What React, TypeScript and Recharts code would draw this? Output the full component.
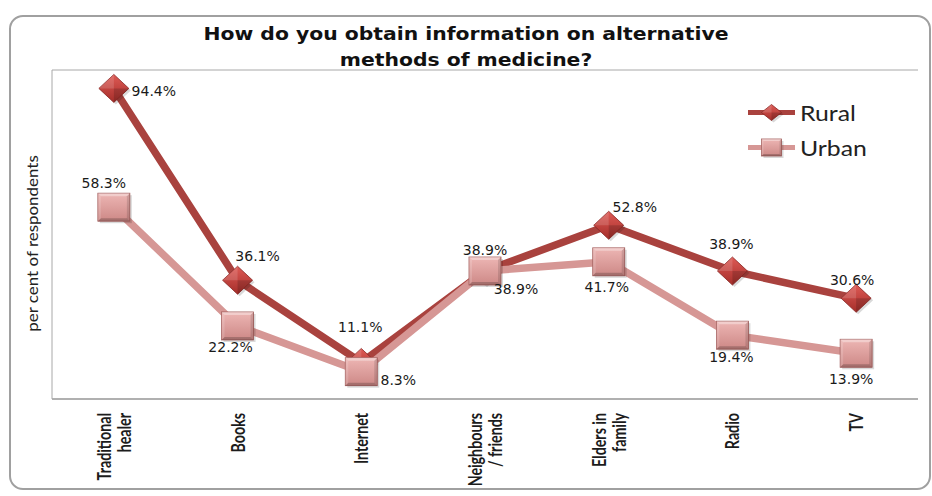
import { LineChart, Line, XAxis, YAxis, CartesianGrid, Legend } from "recharts";

const tickLabels = [
  "Traditional\nhealer",
  "Books",
  "Internet",
  "Neighbours\n/ friends",
  "Elders in\nfamily",
  "Radio",
  "TV",
];
const rural = [94.4, 36.1, 11.1, 38.9, 52.8, 38.9, 30.6];
const urban = [58.3, 22.2, 8.3, 38.9, 41.7, 19.4, 13.9];
const yTicks = [0, 10, 20, 30, 40, 50, 60, 70, 80, 90, 100];
const xTicks = tickLabels.map((_, i) => i);

// where each value label sits relative to its marker (dx, dy)
const ruralLabelShift = [[40, 3], [20, -24], [-1, -35], [0, -21], [26, -18], [-1, -27], [-4, -18]];
const urbanLabelShift = [[-10, -24], [-7, 21], [37, 8], [31, 18], [-2, 25], [-1, 22], [-5, 26]];

const RURAL = "#A9423E";
const URBAN = "#D69795";
const GRID = "#A8A8A8";

const data = tickLabels.map((label, i) => ({ pos: i, label, rural: rural[i], urban: urban[i] }));

function Diamond({ cx, cy, w = 15, h = 14 }: any) {
  const pts = (dx = 0, dy = 0) =>
    `${cx + dx},${cy - h + dy} ${cx + w + dx},${cy + dy} ${cx + dx},${cy + h + dy} ${cx - w + dx},${cy + dy}`;
  return (
    <g>
      <polygon points={pts(2, 2)} fill="#000" opacity={0.15} />
      <polygon points={pts()} fill="url(#ruralFill)" stroke="#8A2724" strokeWidth={0.8} />
      <polygon points={`${cx},${cy - h} ${cx - w},${cy} ${cx},${cy}`} fill="#fff" opacity={0.14} />
      <polygon points={`${cx},${cy + h} ${cx + w},${cy} ${cx},${cy}`} fill="#000" opacity={0.16} />
    </g>
  );
}

function Block({ cx, cy, w = 16, h = 14, b = 3 }: any) {
  const x0 = cx - w, x1 = cx + w, y0 = cy - h, y1 = cy + h;
  return (
    <g>
      <rect x={x0 + 2} y={y0 + 2} width={2 * w} height={2 * h} fill="#000" opacity={0.15} />
      <rect x={x0} y={y0} width={2 * w} height={2 * h} fill="url(#urbanFill)" stroke="#A05A58" strokeWidth={0.8} />
      <polygon points={`${x0},${y0} ${x1},${y0} ${x1 - b},${y0 + b} ${x0 + b},${y0 + b}`} fill="#fff" opacity={0.35} />
      <polygon points={`${x0},${y0} ${x0 + b},${y0 + b} ${x0 + b},${y1 - b} ${x0},${y1}`} fill="#fff" opacity={0.15} />
      <polygon points={`${x0},${y1} ${x1},${y1} ${x1 - b},${y1 - b} ${x0 + b},${y1 - b}`} fill="#000" opacity={0.2} />
      <polygon points={`${x1},${y0} ${x1},${y1} ${x1 - b},${y1 - b} ${x1 - b},${y0 + b}`} fill="#000" opacity={0.12} />
    </g>
  );
}

function ValueLabel(props: any) {
  const { index, value, shift } = props;
  const x = props.x ?? props.viewBox?.x;
  const y = props.y ?? props.viewBox?.y;
  const [dx, dy] = shift[index];
  return (
    <text
      x={x + dx}
      y={y + dy}
      textAnchor="middle"
      dominantBaseline="central"
      fontFamily="DejaVu Sans"
      fontSize={14}
      fill="#1a1a1a"
    >
      {Number(value).toFixed(1)}%
    </text>
  );
}

function CategoryTick({ x, y, payload }: any) {
  const lines = tickLabels[payload.value].split("\n");
  const first = lines.length === 1 ? 7 : -3;
  return (
    <g>
      {lines.map((ln, i) => (
        <text
          key={i}
          transform={`translate(${x + first + i * 20}, ${y + 6}) rotate(-90) scale(0.75, 1)`}
          textAnchor="end"
          fontFamily="Lato"
          fontWeight={700}
          fontSize={19}
          fill="#1c1c1c"
        >
          {ln}
        </text>
      ))}
    </g>
  );
}

function YTitle({ viewBox }: any) {
  const cy = viewBox.y + viewBox.height / 2 + 9;
  return (
    <text
      transform={`translate(37.5, ${cy}) rotate(-90) scale(1.13, 1)`}
      textAnchor="middle"
      fontFamily="Lato"
      fontSize={15}
      fill="#222"
    >
      per cent of respondents
    </text>
  );
}

const legendItems = [
  { name: "Rural", color: RURAL, shape: "diamond" },
  { name: "Urban", color: URBAN, shape: "block" },
];

function LegendBox() {
  return (
    <div style={{ background: "#fff", width: 151, height: 70 }}>
      {legendItems.map((it) => (
        <div key={it.name} style={{ display: "flex", alignItems: "center", height: 35, paddingLeft: 15 }}>
          <svg width={47} height={35}>
            <line x1={0} x2={47} y1={17.5} y2={17.5} stroke={it.color} strokeWidth={5} />
            {it.shape === "diamond" ? (
              <Diamond cx={23.5} cy={17.5} w={10} h={8} />
            ) : (
              <Block cx={23.5} cy={17.5} w={10} h={8.5} b={2} />
            )}
          </svg>
          <span
            style={{
              marginLeft: 5,
              fontFamily: "Lato",
              fontSize: 21,
              lineHeight: 1,
              color: "#222",
              display: "inline-block",
              transform: "scaleX(1.18)",
              transformOrigin: "left center",
            }}
          >
            {it.name}
          </span>
        </div>
      ))}
    </div>
  );
}

export default function App() {
  const titleLine = {
    textAlign: "center" as const,
    transform: "scaleX(1.13)",
    transformOrigin: "466px center",
  };
  return (
    <div style={{ position: "absolute", left: 0, top: 0, width: 932, height: 496, background: "#fff" }}>
      <div
        style={{
          position: "absolute",
          left: 9,
          top: 15,
          width: 922,
          height: 475,
          boxSizing: "border-box",
          border: "2px solid #A0A0A0",
          borderRadius: 14,
        }}
      />
      <div
        style={{
          position: "absolute",
          left: 0,
          top: 21,
          width: 932,
          fontFamily: "DejaVu Sans",
          fontWeight: 700,
          fontSize: 18,
          lineHeight: "26px",
          color: "#111",
        }}
      >
        <div style={titleLine}>How do you obtain information on alternative</div>
        <div style={titleLine}>methods of medicine?</div>
      </div>
      <div style={{ position: "absolute", left: 0, top: 0 }}>
        <LineChart width={932} height={496} data={data} margin={{ top: 70, right: 14, bottom: 0, left: 0 }}>
          <defs>
            <linearGradient id="ruralFill" x1="0" y1="0" x2="0" y2="1">
              <stop offset="0%" stopColor="#DE5A55" />
              <stop offset="100%" stopColor="#A52E2A" />
            </linearGradient>
            <linearGradient id="urbanFill" x1="0" y1="0" x2="0" y2="1">
              <stop offset="0%" stopColor="#EDB6B4" />
              <stop offset="100%" stopColor="#CD8886" />
            </linearGradient>
          </defs>
          <CartesianGrid vertical={false} stroke={GRID} />
          <XAxis
            dataKey="pos"
            type="number"
            domain={[-0.5, 6.5]}
            ticks={xTicks}
            interval={0}
            height={97}
            tickLine={false}
            tickSize={6}
            tickMargin={2}
            axisLine={{ stroke: "#B0B0B0", strokeWidth: 2 }}
            tick={<CategoryTick />}
          />
          <YAxis
            width={52}
            domain={[0, 100]}
            ticks={yTicks}
            tick={false}
            tickLine={false}
            axisLine={{ stroke: GRID }}
            label={{ content: <YTitle /> }}
          />
          <Legend
            layout="vertical"
            align="center"
            verticalAlign="middle"
            content={<LegendBox />}
            wrapperStyle={{ left: 733, top: 95, width: 151 }}
          />
          <Line
            type="linear"
            dataKey="rural"
            name="Rural"
            stroke={RURAL}
            strokeWidth={7.5}
            strokeLinejoin="round"
            isAnimationActive={false}
            activeDot={false}
            dot={(p: any) => <Diamond key={`r${p.index}`} cx={p.cx} cy={p.cy} />}
            label={(p: any) => <ValueLabel key={`rl${p.index}`} {...p} shift={ruralLabelShift} />}
          />
          <Line
            type="linear"
            dataKey="urban"
            name="Urban"
            stroke={URBAN}
            strokeWidth={7.5}
            strokeLinejoin="round"
            isAnimationActive={false}
            activeDot={false}
            dot={(p: any) => <Block key={`u${p.index}`} cx={p.cx} cy={p.cy} />}
            label={(p: any) => <ValueLabel key={`ul${p.index}`} {...p} shift={urbanLabelShift} />}
          />
        </LineChart>
      </div>
    </div>
  );
}
